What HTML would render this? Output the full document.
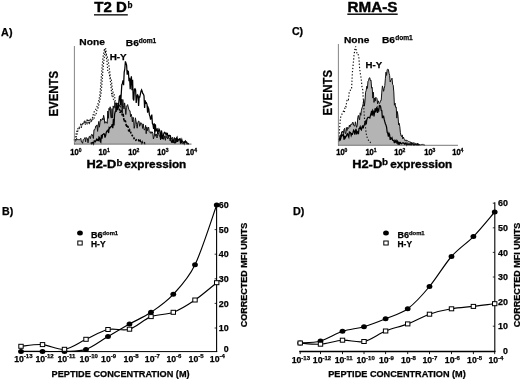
<!DOCTYPE html>
<html><head><meta charset="utf-8"><title>Figure</title>
<style>html,body{margin:0;padding:0;background:#fff;}svg{display:block;will-change:transform;opacity:0.999;filter:blur(0.35px);}svg text{font-family:"Liberation Sans",sans-serif;}</style>
</head><body>
<svg width="520" height="379" viewBox="0 0 520 379" fill="#000">
<rect width="520" height="379" fill="#fff"/>
<text x="94.3" y="11.9" font-size="14" font-weight="bold" text-anchor="start" textLength="32.6" lengthAdjust="spacingAndGlyphs" stroke="#000" stroke-width="0.4" >T2 D</text>
<text x="127.6" y="7.5" font-size="8.5" font-weight="bold" text-anchor="start" textLength="5" lengthAdjust="spacingAndGlyphs" stroke="#000" stroke-width="0.25" >b</text>
<rect x="94" y="14.2" width="33.8" height="1.3" fill="#000"/>
<text x="347.6" y="12" font-size="14" font-weight="bold" text-anchor="start" textLength="49.8" lengthAdjust="spacingAndGlyphs" stroke="#000" stroke-width="0.4" >RMA-S</text>
<rect x="347.3" y="13.5" width="50.4" height="1.4" fill="#000"/>
<text x="1.1" y="35.7" font-size="10" font-weight="bold" text-anchor="start" textLength="11.4" lengthAdjust="spacingAndGlyphs" stroke="#000" stroke-width="0.25" >A)</text>
<text x="291.9" y="35" font-size="10" font-weight="bold" text-anchor="start" textLength="11.2" lengthAdjust="spacingAndGlyphs" stroke="#000" stroke-width="0.25" >C)</text>
<text x="2.0" y="215" font-size="10" font-weight="bold" text-anchor="start" textLength="11.2" lengthAdjust="spacingAndGlyphs" stroke="#000" stroke-width="0.25" >B)</text>
<text x="292.9" y="215" font-size="10" font-weight="bold" text-anchor="start" textLength="11.4" lengthAdjust="spacingAndGlyphs" stroke="#000" stroke-width="0.25" >D)</text>
<path d="M74.8,140.5 L75.4,141.3 L76.0,140.4 L76.6,138.4 L77.2,139.7 L77.8,139.5 L78.4,139.8 L79.0,139.2 L79.6,139.8 L80.2,139.3 L80.8,138.3 L81.4,141.9 L82.0,141.8 L82.6,143.3 L83.2,139.7 L83.8,139.0 L84.4,138.8 L85.0,137.5 L85.6,141.8 L86.2,137.9 L86.8,137.7 L87.4,138.8 L88.0,142.8 L88.6,139.1 L89.2,136.5 L89.8,136.3 L90.4,138.6 L91.0,135.9 L91.6,134.4 L92.2,134.5 L92.8,136.5 L93.4,138.5 L94.0,129.7 L94.6,129.8 L95.2,128.5 L95.8,126.0 L96.4,126.2 L97.0,124.9 L97.6,131.4 L98.2,125.3 L98.8,121.4 L99.4,127.2 L100.0,122.6 L100.6,119.1 L101.2,120.5 L101.8,119.8 L102.4,118.4 L103.0,120.0 L103.6,115.3 L104.2,117.7 L104.8,123.3 L105.4,121.7 L106.0,122.5 L106.6,121.9 L107.2,123.4 L107.8,111.0 L108.4,118.3 L109.0,108.3 L109.6,110.2 L110.2,106.8 L110.8,116.9 L111.4,118.1 L112.0,108.6 L112.6,118.0 L113.2,105.9 L113.8,108.3 L114.4,107.6 L115.0,102.8 L115.6,108.0 L116.2,111.9 L116.8,102.8 L117.4,104.4 L118.0,103.0 L118.6,104.4 L119.2,104.6 L119.8,106.6 L120.4,107.3 L121.0,105.2 L121.6,99.2 L122.2,113.1 L122.8,99.5 L123.4,105.7 L124.0,108.9 L124.6,102.9 L125.2,107.2 L125.8,114.5 L126.4,107.6 L127.0,105.7 L127.6,104.6 L128.2,107.0 L128.8,109.3 L129.4,110.7 L130.0,110.7 L130.6,116.8 L131.2,114.2 L131.8,116.7 L132.4,121.9 L133.0,117.2 L133.6,119.4 L134.2,128.3 L134.8,125.3 L135.4,117.8 L136.0,121.1 L136.6,124.5 L137.2,128.2 L137.8,123.0 L138.4,121.2 L139.0,121.1 L139.6,126.3 L140.2,125.0 L140.8,122.6 L141.4,123.8 L142.0,123.7 L142.6,128.4 L143.2,123.9 L143.8,128.1 L144.4,130.1 L145.0,128.8 L145.6,125.4 L146.2,133.7 L146.8,126.9 L147.4,130.7 L148.0,128.0 L148.6,127.1 L149.2,131.6 L149.8,132.4 L150.4,131.7 L151.0,133.5 L151.6,131.9 L152.2,131.9 L152.8,133.2 L153.4,139.0 L154.0,136.8 L154.6,133.3 L155.2,136.3 L155.8,133.9 L156.4,134.1 L157.0,138.0 L157.6,134.5 L158.2,133.2 L158.8,134.3 L159.4,136.1 L160.0,136.3 L160.6,140.0 L161.2,135.1 L161.8,138.6 L162.4,137.8 L163.0,136.4 L163.6,139.3 L164.2,138.3 L164.8,135.7 L165.4,140.3 L166.0,135.5 L166.6,137.6 L167.2,137.6 L167.8,138.9 L168.4,136.9 L169.0,138.0 L169.6,138.0 L170.2,141.0 L170.8,137.4 L171.4,138.8 L172.0,138.4 L172.6,137.3 L173.2,142.9 L173.8,139.1 L174.4,137.5 L175.0,142.9 L175.6,138.3 L176.2,140.6 L176.8,141.9 L177.4,139.3 L178.0,139.7 L178.6,139.7 L179.2,140.3 L179.8,139.0 L180.4,139.4 L181.0,140.7 L181.6,143.1 L182.2,142.5 L182.8,143.8 L183.4,142.9 L184.0,141.4 L184.6,141.9 L185.2,141.1 L185.8,141.7 L186.4,141.9 L187.0,143.2 L187.6,143.8 L188.2,143.1 L188.8,143.7 L188.8,143.8 L74.8,143.8 Z" fill="#b4b4b4" stroke="none"/>
<path d="M74.8,140.5 L75.4,141.3 L76.0,140.4 L76.6,138.4 L77.2,139.7 L77.8,139.5 L78.4,139.8 L79.0,139.2 L79.6,139.8 L80.2,139.3 L80.8,138.3 L81.4,141.9 L82.0,141.8 L82.6,143.3 L83.2,139.7 L83.8,139.0 L84.4,138.8 L85.0,137.5 L85.6,141.8 L86.2,137.9 L86.8,137.7 L87.4,138.8 L88.0,142.8 L88.6,139.1 L89.2,136.5 L89.8,136.3 L90.4,138.6 L91.0,135.9 L91.6,134.4 L92.2,134.5 L92.8,136.5 L93.4,138.5 L94.0,129.7 L94.6,129.8 L95.2,128.5 L95.8,126.0 L96.4,126.2 L97.0,124.9 L97.6,131.4 L98.2,125.3 L98.8,121.4 L99.4,127.2 L100.0,122.6 L100.6,119.1 L101.2,120.5 L101.8,119.8 L102.4,118.4 L103.0,120.0 L103.6,115.3 L104.2,117.7 L104.8,123.3 L105.4,121.7 L106.0,122.5 L106.6,121.9 L107.2,123.4 L107.8,111.0 L108.4,118.3 L109.0,108.3 L109.6,110.2 L110.2,106.8 L110.8,116.9 L111.4,118.1 L112.0,108.6 L112.6,118.0 L113.2,105.9 L113.8,108.3 L114.4,107.6 L115.0,102.8 L115.6,108.0 L116.2,111.9 L116.8,102.8 L117.4,104.4 L118.0,103.0 L118.6,104.4 L119.2,104.6 L119.8,106.6 L120.4,107.3 L121.0,105.2 L121.6,99.2 L122.2,113.1 L122.8,99.5 L123.4,105.7 L124.0,108.9 L124.6,102.9 L125.2,107.2 L125.8,114.5 L126.4,107.6 L127.0,105.7 L127.6,104.6 L128.2,107.0 L128.8,109.3 L129.4,110.7 L130.0,110.7 L130.6,116.8 L131.2,114.2 L131.8,116.7 L132.4,121.9 L133.0,117.2 L133.6,119.4 L134.2,128.3 L134.8,125.3 L135.4,117.8 L136.0,121.1 L136.6,124.5 L137.2,128.2 L137.8,123.0 L138.4,121.2 L139.0,121.1 L139.6,126.3 L140.2,125.0 L140.8,122.6 L141.4,123.8 L142.0,123.7 L142.6,128.4 L143.2,123.9 L143.8,128.1 L144.4,130.1 L145.0,128.8 L145.6,125.4 L146.2,133.7 L146.8,126.9 L147.4,130.7 L148.0,128.0 L148.6,127.1 L149.2,131.6 L149.8,132.4 L150.4,131.7 L151.0,133.5 L151.6,131.9 L152.2,131.9 L152.8,133.2 L153.4,139.0 L154.0,136.8 L154.6,133.3 L155.2,136.3 L155.8,133.9 L156.4,134.1 L157.0,138.0 L157.6,134.5 L158.2,133.2 L158.8,134.3 L159.4,136.1 L160.0,136.3 L160.6,140.0 L161.2,135.1 L161.8,138.6 L162.4,137.8 L163.0,136.4 L163.6,139.3 L164.2,138.3 L164.8,135.7 L165.4,140.3 L166.0,135.5 L166.6,137.6 L167.2,137.6 L167.8,138.9 L168.4,136.9 L169.0,138.0 L169.6,138.0 L170.2,141.0 L170.8,137.4 L171.4,138.8 L172.0,138.4 L172.6,137.3 L173.2,142.9 L173.8,139.1 L174.4,137.5 L175.0,142.9 L175.6,138.3 L176.2,140.6 L176.8,141.9 L177.4,139.3 L178.0,139.7 L178.6,139.7 L179.2,140.3 L179.8,139.0 L180.4,139.4 L181.0,140.7 L181.6,143.1 L182.2,142.5 L182.8,143.8 L183.4,142.9 L184.0,141.4 L184.6,141.9 L185.2,141.1 L185.8,141.7 L186.4,141.9 L187.0,143.2 L187.6,143.8 L188.2,143.1 L188.8,143.7" fill="none" stroke="#111" stroke-width="1"/>
<path d="M90.6,143.5 L91.2,143.0 L91.8,143.8 L92.4,142.4 L93.0,142.6 L93.6,143.8 L94.2,140.9 L94.8,140.9 L95.4,141.7 L96.0,140.6 L96.6,139.3 L97.2,140.2 L97.8,139.5 L98.4,141.1 L99.0,137.0 L99.6,137.6 L100.2,141.5 L100.8,142.2 L101.4,134.8 L102.0,138.7 L102.6,134.6 L103.2,134.3 L103.8,133.7 L104.4,134.0 L105.0,137.6 L105.6,135.9 L106.2,132.7 L106.8,131.1 L107.4,131.1 L108.0,130.1 L108.6,133.0 L109.2,127.6 L109.8,128.2 L110.4,127.2 L111.0,126.6 L111.6,126.4 L112.2,124.1 L112.8,128.1 L113.4,118.9 L114.0,125.5 L114.6,114.3 L115.2,111.8 L115.8,110.7 L116.4,109.1 L117.0,105.3 L117.6,110.1 L118.2,107.9 L118.8,102.2 L119.4,96.2 L120.0,95.7 L120.6,105.1 L121.2,94.7 L121.8,84.7 L122.4,83.4 L123.0,80.3 L123.6,85.2 L124.2,72.2 L124.8,69.2 L125.4,61.4 L126.0,63.1 L126.6,65.2 L127.2,74.7 L127.8,71.0 L128.4,71.5 L129.0,81.1 L129.6,77.9 L130.2,89.1 L130.8,80.5 L131.4,76.4 L132.0,90.2 L132.6,79.8 L133.2,98.9 L133.8,100.5 L134.4,89.3 L135.0,88.7 L135.6,89.8 L136.2,103.0 L136.8,97.1 L137.4,94.9 L138.0,95.4 L138.6,106.0 L139.2,96.8 L139.8,97.0 L140.4,94.1 L141.0,91.3 L141.6,89.9 L142.2,91.5 L142.8,93.6 L143.4,94.1 L144.0,95.9 L144.6,108.0 L145.2,100.4 L145.8,103.2 L146.4,102.7 L147.0,104.4 L147.6,112.7 L148.2,107.7 L148.8,109.1 L149.4,114.9 L150.0,116.3 L150.6,119.6 L151.2,117.8 L151.8,114.6 L152.4,123.6 L153.0,124.6 L153.6,128.8 L154.2,123.4 L154.8,133.2 L155.4,124.4 L156.0,131.3 L156.6,129.2 L157.2,128.9 L157.8,134.2 L158.4,131.1 L159.0,129.1 L159.6,130.1 L160.2,134.3 L160.8,138.6 L161.4,130.5 L162.0,133.4 L162.6,139.1 L163.2,136.3 L163.8,133.7 L164.4,132.3 L165.0,132.5 L165.6,134.0 L166.2,134.8 L166.8,133.2 L167.4,133.5 L168.0,137.1 L168.6,135.7 L169.2,135.4 L169.8,136.2 L170.4,135.8 L171.0,140.1 L171.6,142.1 L172.2,142.2 L172.8,140.0 L173.4,140.3 L174.0,142.6 L174.6,142.8 L175.2,142.8 L175.8,142.3 L176.4,138.2 L177.0,137.3 L177.6,141.8 L178.2,139.5 L178.8,139.8 L179.4,138.9 L180.0,138.6 L180.6,143.8 L181.2,141.7 L181.8,139.6 L182.4,141.9 L183.0,141.9 L183.6,142.6 L184.2,143.8 L184.8,141.9 L185.4,141.1 L186.0,142.5 L186.6,142.2 L187.2,143.8 L187.8,143.5 L188.4,143.8 L189.0,143.8" fill="none" stroke="#000" stroke-width="1.25"/>
<path d="M75.3,140.3 L76.1,137.5 L76.9,134.8 L77.7,131.3 L78.5,129.9 L79.3,128.3 L80.1,127.0 L80.9,127.2 L81.7,126.4 L82.5,123.4 L83.3,122.6 L84.1,122.0 L84.9,123.7 L85.7,123.1 L86.5,120.2 L87.3,120.1 L88.1,122.7 L88.9,124.1 L89.7,120.4 L90.5,119.4 L91.3,122.4 L92.1,118.5 L92.9,119.3 L93.7,119.9 L94.5,116.5 L95.3,113.8 L96.1,114.2 L96.9,110.2 L97.7,109.1 L98.5,105.7 L99.3,103.4 L100.1,99.1 L100.9,93.9 L101.7,86.6 L102.5,76.2 L103.3,65.4 L104.1,59.3 L104.9,52.9 L105.7,48.4 L106.5,54.6 L107.3,57.0 L108.1,59.6 L108.9,65.7 L109.7,70.6 L110.5,78.7 L111.3,78.9 L112.1,87.2 L112.9,91.8 L113.7,93.3 L114.5,95.9 L115.3,101.5 L116.1,103.6" fill="none" stroke="#111" stroke-width="1.15" stroke-dasharray="1.3 1.7"/>
<path d="M116.1,103.6 L116.9,106.2 L117.7,106.0 L118.5,107.1 L119.3,108.1 L120.1,112.8 L120.9,110.3 L121.7,113.0 L122.5,115.9 L123.3,115.0 L124.1,121.6 L124.9,119.5 L125.7,122.1 L126.5,127.1 L127.3,124.9 L128.1,127.0 L128.9,132.2 L129.7,130.1 L130.5,131.8 L131.3,134.2 L132.1,135.3 L132.9,136.7 L133.7,137.5 L134.5,139.9 L135.3,140.3 L136.1,140.1 L136.9,139.4 L137.7,139.8 L138.5,139.8 L139.3,141.7 L140.1,140.6 L140.9,142.5 L141.7,143.3 L142.5,141.7 L143.3,142.2 L144.1,142.6 L144.9,143.6 L145.7,143.3" fill="none" stroke="#000" stroke-width="1.6" stroke-dasharray="2 1.4"/>
<path d="M74.2,140.3 L75.0,137.3 L75.8,135.5 L76.6,131.3 L77.4,131.3 L78.2,127.2 L79.0,127.6 L79.8,126.4 L80.6,124.7 L81.4,127.7 L82.2,122.9 L83.0,123.6 L83.8,124.6 L84.6,120.6 L85.4,124.6 L86.2,121.2 L87.0,123.3 L87.8,119.7 L88.6,119.3 L89.4,122.9 L90.2,121.0 L91.0,119.1 L91.8,119.1 L92.6,117.5 L93.4,113.5 L94.2,111.8 L95.0,110.4 L95.8,109.1 L96.6,107.4 L97.4,105.6 L98.2,102.9 L99.0,99.7 L99.8,94.9 L100.6,86.6 L101.4,75.5 L102.2,65.4 L103.0,57.7 L103.8,52.0 L104.6,48.4 L105.4,52.4 L106.2,56.5 L107.0,61.6 L107.8,71.1 L108.6,71.4 L109.4,74.3 L110.2,79.7 L111.0,86.3 L111.8,96.3 L112.6,93.3 L113.4,99.2 L114.2,100.4 L115.0,104.1 L115.8,101.4" fill="none" stroke="#111" stroke-width="1.15" stroke-dasharray="1.3 1.7"/>
<line x1="74.4" y1="46" x2="74.4" y2="144.4" stroke="#777" stroke-width="0.9"/>
<line x1="74" y1="144.10000000000002" x2="191.5" y2="144.10000000000002" stroke="#444" stroke-width="0.8"/>
<text x="70.3" y="154.9" font-size="8.6" font-weight="bold" text-anchor="start" textLength="8.4" lengthAdjust="spacingAndGlyphs" stroke="#000" stroke-width="0.35" >10</text>
<text x="78.69999999999999" y="151.9" font-size="5.6" font-weight="bold" text-anchor="start" textLength="2.8" lengthAdjust="spacingAndGlyphs" stroke="#000" stroke-width="0.3" >0</text>
<text x="98.60000000000001" y="154.9" font-size="8.6" font-weight="bold" text-anchor="start" textLength="8.4" lengthAdjust="spacingAndGlyphs" stroke="#000" stroke-width="0.35" >10</text>
<text x="107.0" y="151.9" font-size="5.6" font-weight="bold" text-anchor="start" textLength="2.8" lengthAdjust="spacingAndGlyphs" stroke="#000" stroke-width="0.3" >1</text>
<text x="128.2" y="154.9" font-size="8.6" font-weight="bold" text-anchor="start" textLength="8.4" lengthAdjust="spacingAndGlyphs" stroke="#000" stroke-width="0.35" >10</text>
<text x="136.6" y="151.9" font-size="5.6" font-weight="bold" text-anchor="start" textLength="2.8" lengthAdjust="spacingAndGlyphs" stroke="#000" stroke-width="0.3" >2</text>
<text x="157.29999999999998" y="154.9" font-size="8.6" font-weight="bold" text-anchor="start" textLength="8.4" lengthAdjust="spacingAndGlyphs" stroke="#000" stroke-width="0.35" >10</text>
<text x="165.7" y="151.9" font-size="5.6" font-weight="bold" text-anchor="start" textLength="2.8" lengthAdjust="spacingAndGlyphs" stroke="#000" stroke-width="0.3" >3</text>
<text x="185.79999999999998" y="154.9" font-size="8.6" font-weight="bold" text-anchor="start" textLength="8.4" lengthAdjust="spacingAndGlyphs" stroke="#000" stroke-width="0.35" >10</text>
<text x="194.2" y="151.9" font-size="5.6" font-weight="bold" text-anchor="start" textLength="2.8" lengthAdjust="spacingAndGlyphs" stroke="#000" stroke-width="0.3" >4</text>
<text x="79.3" y="45.4" font-size="9.8" font-weight="bold" text-anchor="start" textLength="25.6" lengthAdjust="spacingAndGlyphs" stroke="#000" stroke-width="0.25" >None</text>
<text x="125.8" y="45.5" font-size="9.8" font-weight="bold" text-anchor="start" textLength="13" lengthAdjust="spacingAndGlyphs" stroke="#000" stroke-width="0.25" >B6</text>
<text x="138.7" y="42.6" font-size="6.8" font-weight="bold" text-anchor="start" textLength="17.6" lengthAdjust="spacingAndGlyphs" stroke="#000" stroke-width="0.25" >dom1</text>
<text x="109.7" y="59.7" font-size="9.8" font-weight="bold" text-anchor="start" textLength="17" lengthAdjust="spacingAndGlyphs" stroke="#000" stroke-width="0.25" >H-Y</text>
<text x="86.4" y="168.1" font-size="11.6" font-weight="bold" text-anchor="start" textLength="30" lengthAdjust="spacingAndGlyphs" stroke="#000" stroke-width="0.35" >H2-D</text>
<text x="116.6" y="165.6" font-size="8.8" font-weight="bold" text-anchor="start" textLength="6" lengthAdjust="spacingAndGlyphs" stroke="#000" stroke-width="0.25" >b</text>
<text x="124.3" y="168.1" font-size="11.6" font-weight="bold" text-anchor="start" textLength="62" lengthAdjust="spacingAndGlyphs" stroke="#000" stroke-width="0.35" >expression</text>
<text transform="translate(58.1,116.5) rotate(-90)" font-size="12.3" font-weight="bold" stroke="#000" stroke-width="0.25" textLength="45.6" lengthAdjust="spacingAndGlyphs">EVENTS</text>
<path d="M338.6,140.0 L339.2,138.6 L339.8,139.9 L340.4,134.8 L341.0,136.9 L341.6,131.8 L342.2,132.3 L342.8,131.0 L343.4,133.6 L344.0,129.4 L344.6,128.3 L345.2,133.3 L345.8,133.6 L346.4,127.5 L347.0,130.6 L347.6,127.4 L348.2,128.4 L348.8,128.3 L349.4,125.0 L350.0,126.9 L350.6,124.6 L351.2,124.3 L351.8,124.8 L352.4,122.6 L353.0,122.1 L353.6,125.0 L354.2,125.9 L354.8,126.2 L355.4,121.8 L356.0,124.7 L356.6,127.3 L357.2,125.6 L357.8,117.4 L358.4,115.4 L359.0,118.1 L359.6,119.9 L360.2,112.8 L360.8,115.3 L361.4,110.2 L362.0,108.0 L362.6,106.2 L363.2,103.8 L363.8,99.5 L364.4,106.1 L365.0,100.8 L365.6,92.2 L366.2,90.5 L366.8,86.2 L367.4,88.4 L368.0,81.1 L368.6,80.4 L369.2,78.0 L369.8,77.7 L370.4,80.8 L371.0,80.2 L371.6,88.2 L372.2,87.4 L372.8,98.1 L373.4,92.2 L374.0,102.4 L374.6,98.0 L375.2,101.1 L375.8,97.3 L376.4,97.9 L377.0,98.7 L377.6,103.8 L378.2,100.8 L378.8,102.4 L379.4,103.5 L380.0,102.5 L380.6,100.5 L381.2,100.5 L381.8,92.1 L382.4,85.9 L383.0,88.0 L383.6,91.3 L384.2,88.5 L384.8,85.7 L385.4,78.3 L386.0,72.1 L386.6,75.4 L387.2,69.6 L387.8,69.0 L388.4,69.7 L389.0,73.2 L389.6,75.3 L390.2,82.0 L390.8,80.2 L391.4,79.7 L392.0,78.2 L392.6,84.4 L393.2,85.2 L393.8,91.9 L394.4,105.2 L395.0,103.0 L395.6,107.3 L396.2,107.0 L396.8,118.1 L397.4,111.5 L398.0,116.1 L398.6,124.8 L399.2,123.3 L399.8,126.7 L400.4,132.8 L401.0,135.6 L401.6,136.6 L402.2,134.9 L402.8,138.9 L403.4,137.0 L404.0,138.6 L404.6,139.2 L405.2,141.0 L405.8,140.3 L406.4,140.1 L407.0,141.2 L407.6,140.6 L408.2,141.3 L408.8,141.8 L409.4,141.8 L410.0,141.8 L410.6,142.0 L411.2,144.5 L411.8,142.2 L412.4,143.6 L413.0,142.8 L413.6,143.0 L414.2,142.7 L414.8,143.6 L415.4,143.4 L416.0,145.0 L416.6,143.7 L417.2,143.5 L417.8,143.6 L418.4,145.0 L419.0,144.9 L419.6,144.3 L420.2,145.0 L420.8,144.8 L421.4,144.5 L422.0,145.0 L422.6,144.4 L423.2,144.9 L423.8,144.5 L424.4,145.0 L425.0,145.0 L425.0,145.0 L338.6,145.0 Z" fill="#b4b4b4" stroke="none"/>
<path d="M338.6,140.0 L339.2,138.6 L339.8,139.9 L340.4,134.8 L341.0,136.9 L341.6,131.8 L342.2,132.3 L342.8,131.0 L343.4,133.6 L344.0,129.4 L344.6,128.3 L345.2,133.3 L345.8,133.6 L346.4,127.5 L347.0,130.6 L347.6,127.4 L348.2,128.4 L348.8,128.3 L349.4,125.0 L350.0,126.9 L350.6,124.6 L351.2,124.3 L351.8,124.8 L352.4,122.6 L353.0,122.1 L353.6,125.0 L354.2,125.9 L354.8,126.2 L355.4,121.8 L356.0,124.7 L356.6,127.3 L357.2,125.6 L357.8,117.4 L358.4,115.4 L359.0,118.1 L359.6,119.9 L360.2,112.8 L360.8,115.3 L361.4,110.2 L362.0,108.0 L362.6,106.2 L363.2,103.8 L363.8,99.5 L364.4,106.1 L365.0,100.8 L365.6,92.2 L366.2,90.5 L366.8,86.2 L367.4,88.4 L368.0,81.1 L368.6,80.4 L369.2,78.0 L369.8,77.7 L370.4,80.8 L371.0,80.2 L371.6,88.2 L372.2,87.4 L372.8,98.1 L373.4,92.2 L374.0,102.4 L374.6,98.0 L375.2,101.1 L375.8,97.3 L376.4,97.9 L377.0,98.7 L377.6,103.8 L378.2,100.8 L378.8,102.4 L379.4,103.5 L380.0,102.5 L380.6,100.5 L381.2,100.5 L381.8,92.1 L382.4,85.9 L383.0,88.0 L383.6,91.3 L384.2,88.5 L384.8,85.7 L385.4,78.3 L386.0,72.1 L386.6,75.4 L387.2,69.6 L387.8,69.0 L388.4,69.7 L389.0,73.2 L389.6,75.3 L390.2,82.0 L390.8,80.2 L391.4,79.7 L392.0,78.2 L392.6,84.4 L393.2,85.2 L393.8,91.9 L394.4,105.2 L395.0,103.0 L395.6,107.3 L396.2,107.0 L396.8,118.1 L397.4,111.5 L398.0,116.1 L398.6,124.8 L399.2,123.3 L399.8,126.7 L400.4,132.8 L401.0,135.6 L401.6,136.6 L402.2,134.9 L402.8,138.9 L403.4,137.0 L404.0,138.6 L404.6,139.2 L405.2,141.0 L405.8,140.3 L406.4,140.1 L407.0,141.2 L407.6,140.6 L408.2,141.3 L408.8,141.8 L409.4,141.8 L410.0,141.8 L410.6,142.0 L411.2,144.5 L411.8,142.2 L412.4,143.6 L413.0,142.8 L413.6,143.0 L414.2,142.7 L414.8,143.6 L415.4,143.4 L416.0,145.0 L416.6,143.7 L417.2,143.5 L417.8,143.6 L418.4,145.0 L419.0,144.9 L419.6,144.3 L420.2,145.0 L420.8,144.8 L421.4,144.5 L422.0,145.0 L422.6,144.4 L423.2,144.9 L423.8,144.5 L424.4,145.0 L425.0,145.0" fill="none" stroke="#111" stroke-width="1"/>
<path d="M338.6,141.6 L339.2,140.2 L339.8,138.0 L340.4,139.5 L341.0,137.6 L341.6,134.9 L342.2,135.7 L342.8,134.9 L343.4,134.7 L344.0,139.8 L344.6,135.9 L345.2,137.9 L345.8,136.9 L346.4,135.9 L347.0,134.2 L347.6,133.8 L348.2,135.7 L348.8,137.1 L349.4,132.0 L350.0,132.3 L350.6,132.8 L351.2,135.5 L351.8,133.8 L352.4,134.2 L353.0,132.4 L353.6,130.2 L354.2,131.1 L354.8,134.6 L355.4,131.3 L356.0,128.9 L356.6,134.5 L357.2,131.5 L357.8,132.0 L358.4,134.1 L359.0,128.7 L359.6,128.3 L360.2,126.8 L360.8,129.2 L361.4,129.9 L362.0,127.1 L362.6,126.2 L363.2,128.3 L363.8,125.7 L364.4,124.8 L365.0,122.3 L365.6,121.4 L366.2,124.4 L366.8,119.7 L367.4,118.3 L368.0,117.3 L368.6,117.3 L369.2,117.5 L369.8,117.9 L370.4,115.7 L371.0,113.8 L371.6,110.8 L372.2,115.6 L372.8,110.5 L373.4,111.6 L374.0,116.3 L374.6,111.8 L375.2,108.4 L375.8,112.5 L376.4,108.3 L377.0,107.3 L377.6,112.9 L378.2,109.7 L378.8,110.6 L379.4,105.5 L380.0,105.6 L380.6,106.5 L381.2,110.3 L381.8,110.7 L382.4,118.2 L383.0,116.0 L383.6,116.2 L384.2,119.4 L384.8,121.7 L385.4,123.7 L386.0,125.1 L386.6,127.4 L387.2,132.3 L387.8,133.5 L388.4,136.6 L389.0,133.3 L389.6,134.6 L390.2,139.9 L390.8,138.1 L391.4,138.8 L392.0,137.8 L392.6,140.2 L393.2,140.3 L393.8,140.9 L394.4,143.1 L395.0,140.6 L395.6,141.8 L396.2,140.6 L396.8,142.6 L397.4,141.4 L398.0,144.6 L398.6,141.7 L399.2,144.9 L399.8,142.5 L400.4,142.4 L401.0,143.7 L401.6,143.8 L402.2,143.0 L402.8,142.9 L403.4,142.8 L404.0,143.5 L404.6,144.2 L405.2,143.0 L405.8,144.0 L406.4,145.0 L407.0,143.3 L407.6,144.7 L408.2,144.7 L408.8,143.9 L409.4,144.6 L410.0,143.8 L410.6,144.8 L411.2,145.0 L411.8,144.2 L412.4,144.2 L413.0,143.8 L413.6,145.0 L414.2,145.0 L414.8,144.3 L415.4,144.6 L416.0,144.6 L416.6,145.0 L417.2,144.1 L417.8,145.0 L418.4,144.2 L419.0,145.0 L419.6,144.8" fill="none" stroke="#000" stroke-width="1.25"/>
<path d="M338.8,140.0 L339.6,128.3 L340.4,117.8 L341.2,116.2 L342.0,114.0 L342.8,112.8 L343.6,110.6 L344.4,112.2 L345.2,106.0 L346.0,106.7 L346.8,101.1 L347.6,99.0 L348.4,99.7 L349.2,92.5 L350.0,91.9 L350.8,88.2 L351.6,88.0 L352.4,72.3 L353.2,64.4 L354.0,55.4 L354.8,49.7 L355.6,46.4 L356.4,51.2 L357.2,54.1 L358.0,53.8 L358.8,56.8 L359.6,68.1 L360.4,74.2 L361.2,78.4 L362.0,87.1 L362.8,90.1 L363.6,104.9 L364.4,117.6 L365.2,124.0 L366.0,132.5 L366.8,136.2 L367.6,139.0 L368.4,140.2 L369.2,141.8 L370.0,142.0 L370.8,143.6" fill="none" stroke="#111" stroke-width="1.15" stroke-dasharray="1.3 1.9"/>
<line x1="338.4" y1="44" x2="338.4" y2="145.6" stroke="#777" stroke-width="0.9"/>
<line x1="338" y1="145.3" x2="458" y2="145.3" stroke="#555" stroke-width="0.8"/>
<text x="336.2" y="154.7" font-size="8.6" font-weight="bold" text-anchor="start" textLength="8.4" lengthAdjust="spacingAndGlyphs" stroke="#000" stroke-width="0.35" >10</text>
<text x="344.6" y="151.7" font-size="5.6" font-weight="bold" text-anchor="start" textLength="2.8" lengthAdjust="spacingAndGlyphs" stroke="#000" stroke-width="0.3" >0</text>
<text x="365.4" y="154.7" font-size="8.6" font-weight="bold" text-anchor="start" textLength="8.4" lengthAdjust="spacingAndGlyphs" stroke="#000" stroke-width="0.35" >10</text>
<text x="373.8" y="151.7" font-size="5.6" font-weight="bold" text-anchor="start" textLength="2.8" lengthAdjust="spacingAndGlyphs" stroke="#000" stroke-width="0.3" >1</text>
<text x="394.2" y="154.7" font-size="8.6" font-weight="bold" text-anchor="start" textLength="8.4" lengthAdjust="spacingAndGlyphs" stroke="#000" stroke-width="0.35" >10</text>
<text x="402.6" y="151.7" font-size="5.6" font-weight="bold" text-anchor="start" textLength="2.8" lengthAdjust="spacingAndGlyphs" stroke="#000" stroke-width="0.3" >2</text>
<text x="424.2" y="154.7" font-size="8.6" font-weight="bold" text-anchor="start" textLength="8.4" lengthAdjust="spacingAndGlyphs" stroke="#000" stroke-width="0.35" >10</text>
<text x="432.6" y="151.7" font-size="5.6" font-weight="bold" text-anchor="start" textLength="2.8" lengthAdjust="spacingAndGlyphs" stroke="#000" stroke-width="0.3" >3</text>
<text x="452.2" y="154.7" font-size="8.6" font-weight="bold" text-anchor="start" textLength="8.4" lengthAdjust="spacingAndGlyphs" stroke="#000" stroke-width="0.35" >10</text>
<text x="460.6" y="151.7" font-size="5.6" font-weight="bold" text-anchor="start" textLength="2.8" lengthAdjust="spacingAndGlyphs" stroke="#000" stroke-width="0.3" >4</text>
<text x="344" y="42.9" font-size="9.8" font-weight="bold" text-anchor="start" textLength="25.4" lengthAdjust="spacingAndGlyphs" stroke="#000" stroke-width="0.25" >None</text>
<text x="382" y="42.9" font-size="9.8" font-weight="bold" text-anchor="start" textLength="13" lengthAdjust="spacingAndGlyphs" stroke="#000" stroke-width="0.25" >B6</text>
<text x="395.2" y="40" font-size="6.8" font-weight="bold" text-anchor="start" textLength="17.6" lengthAdjust="spacingAndGlyphs" stroke="#000" stroke-width="0.25" >dom1</text>
<text x="365.6" y="67.6" font-size="9.8" font-weight="bold" text-anchor="start" textLength="16.6" lengthAdjust="spacingAndGlyphs" stroke="#000" stroke-width="0.25" >H-Y</text>
<text x="352.2" y="167.7" font-size="11.6" font-weight="bold" text-anchor="start" textLength="30" lengthAdjust="spacingAndGlyphs" stroke="#000" stroke-width="0.35" >H2-D</text>
<text x="382" y="165.2" font-size="8.8" font-weight="bold" text-anchor="start" textLength="6" lengthAdjust="spacingAndGlyphs" stroke="#000" stroke-width="0.25" >b</text>
<text x="390.3" y="167.7" font-size="11.6" font-weight="bold" text-anchor="start" textLength="62" lengthAdjust="spacingAndGlyphs" stroke="#000" stroke-width="0.35" >expression</text>
<text transform="translate(331.6,115.6) rotate(-90)" font-size="12.3" font-weight="bold" stroke="#000" stroke-width="0.25" textLength="45.6" lengthAdjust="spacingAndGlyphs">EVENTS</text>
<line x1="19" y1="351.6" x2="217.2" y2="351.6" stroke="#000" stroke-width="1.0"/>
<line x1="216.6" y1="203" x2="216.6" y2="352.1" stroke="#000" stroke-width="1.1"/>
<line x1="214.6" y1="328.0" x2="216.6" y2="328.0" stroke="#000" stroke-width="0.8"/>
<line x1="214.6" y1="303.4" x2="216.6" y2="303.4" stroke="#000" stroke-width="0.8"/>
<line x1="214.6" y1="278.8" x2="216.6" y2="278.8" stroke="#000" stroke-width="0.8"/>
<line x1="214.6" y1="254.2" x2="216.6" y2="254.2" stroke="#000" stroke-width="0.8"/>
<line x1="214.6" y1="229.6" x2="216.6" y2="229.6" stroke="#000" stroke-width="0.8"/>
<line x1="214.6" y1="205.0" x2="216.6" y2="205.0" stroke="#000" stroke-width="0.8"/>
<path d="M21.0,346.3 C24.4,346.0 35.5,344.1 42.5,344.6 C49.5,345.1 57.5,350.1 64.5,349.3 C71.5,348.5 79.0,342.5 86.0,339.3 C93.0,336.1 101.0,331.1 108.0,329.5 C115.0,327.9 122.6,331.3 129.5,329.2 C136.4,327.1 144.0,319.3 151.0,316.6 C158.0,313.9 166.3,315.0 173.3,312.3 C180.3,309.6 188.1,304.7 195.0,300.0 C201.9,295.3 213.2,285.5 216.7,282.7" fill="none" stroke="#000" stroke-width="1.15"/>
<path d="M21.0,351.4 C24.4,351.4 35.5,351.4 42.5,351.4 C49.5,351.4 57.5,351.7 64.5,351.4 C71.5,351.1 79.0,351.8 86.0,349.4 C93.0,347.0 101.0,340.6 108.0,336.5 C115.0,332.4 122.6,327.9 129.5,324.0 C136.4,320.1 144.0,317.1 151.0,312.3 C158.0,307.5 166.3,301.9 173.3,294.3 C180.3,286.7 188.1,279.1 195.0,264.8 C201.9,250.5 213.2,214.6 216.7,205.0" fill="none" stroke="#000" stroke-width="1.15"/>
<ellipse cx="21.0" cy="351.4" rx="2.9" ry="2.5" fill="#000"/>
<ellipse cx="42.5" cy="351.4" rx="2.9" ry="2.5" fill="#000"/>
<ellipse cx="64.5" cy="351.4" rx="2.9" ry="2.5" fill="#000"/>
<ellipse cx="86.0" cy="349.4" rx="2.9" ry="2.5" fill="#000"/>
<ellipse cx="108.0" cy="336.5" rx="2.9" ry="2.5" fill="#000"/>
<ellipse cx="129.5" cy="324.0" rx="2.9" ry="2.5" fill="#000"/>
<ellipse cx="151.0" cy="312.3" rx="2.9" ry="2.5" fill="#000"/>
<ellipse cx="173.3" cy="294.3" rx="2.9" ry="2.5" fill="#000"/>
<ellipse cx="195.0" cy="264.8" rx="2.9" ry="2.5" fill="#000"/>
<ellipse cx="216.7" cy="205.0" rx="2.9" ry="2.5" fill="#000"/>
<rect x="18.8" y="344.3" width="4.4" height="4.0" fill="#fff" stroke="#000" stroke-width="1"/>
<rect x="40.3" y="342.6" width="4.4" height="4.0" fill="#fff" stroke="#000" stroke-width="1"/>
<rect x="62.3" y="347.3" width="4.4" height="4.0" fill="#fff" stroke="#000" stroke-width="1"/>
<rect x="83.8" y="337.3" width="4.4" height="4.0" fill="#fff" stroke="#000" stroke-width="1"/>
<rect x="105.8" y="327.5" width="4.4" height="4.0" fill="#fff" stroke="#000" stroke-width="1"/>
<rect x="127.3" y="327.2" width="4.4" height="4.0" fill="#fff" stroke="#000" stroke-width="1"/>
<rect x="148.8" y="314.6" width="4.4" height="4.0" fill="#fff" stroke="#000" stroke-width="1"/>
<rect x="171.1" y="310.3" width="4.4" height="4.0" fill="#fff" stroke="#000" stroke-width="1"/>
<rect x="192.8" y="298.0" width="4.4" height="4.0" fill="#fff" stroke="#000" stroke-width="1"/>
<rect x="214.5" y="280.7" width="4.4" height="4.0" fill="#fff" stroke="#000" stroke-width="1"/>
<text x="14.2" y="361.5" font-size="9" font-weight="bold" text-anchor="start" textLength="9.7" lengthAdjust="spacingAndGlyphs" stroke="#000" stroke-width="0.25" >10</text>
<text x="23.8" y="358.1" font-size="6" font-weight="bold" text-anchor="start" stroke="#000" stroke-width="0.25" >-13</text>
<text x="35.4" y="361.5" font-size="9" font-weight="bold" text-anchor="start" textLength="9.7" lengthAdjust="spacingAndGlyphs" stroke="#000" stroke-width="0.25" >10</text>
<text x="45.0" y="358.1" font-size="6" font-weight="bold" text-anchor="start" stroke="#000" stroke-width="0.25" >-12</text>
<text x="57.4" y="361.5" font-size="9" font-weight="bold" text-anchor="start" textLength="9.7" lengthAdjust="spacingAndGlyphs" stroke="#000" stroke-width="0.25" >10</text>
<text x="67.0" y="358.1" font-size="6" font-weight="bold" text-anchor="start" stroke="#000" stroke-width="0.25" >-11</text>
<text x="79.6" y="361.5" font-size="9" font-weight="bold" text-anchor="start" textLength="9.7" lengthAdjust="spacingAndGlyphs" stroke="#000" stroke-width="0.25" >10</text>
<text x="89.2" y="358.1" font-size="6" font-weight="bold" text-anchor="start" stroke="#000" stroke-width="0.25" >-10</text>
<text x="101.1" y="361.5" font-size="9" font-weight="bold" text-anchor="start" textLength="9.7" lengthAdjust="spacingAndGlyphs" stroke="#000" stroke-width="0.25" >10</text>
<text x="110.7" y="358.1" font-size="6" font-weight="bold" text-anchor="start" stroke="#000" stroke-width="0.25" >-9</text>
<text x="123.6" y="361.5" font-size="9" font-weight="bold" text-anchor="start" textLength="9.7" lengthAdjust="spacingAndGlyphs" stroke="#000" stroke-width="0.25" >10</text>
<text x="133.2" y="358.1" font-size="6" font-weight="bold" text-anchor="start" stroke="#000" stroke-width="0.25" >-8</text>
<text x="144.8" y="361.5" font-size="9" font-weight="bold" text-anchor="start" textLength="9.7" lengthAdjust="spacingAndGlyphs" stroke="#000" stroke-width="0.25" >10</text>
<text x="154.4" y="358.1" font-size="6" font-weight="bold" text-anchor="start" stroke="#000" stroke-width="0.25" >-7</text>
<text x="166.5" y="361.5" font-size="9" font-weight="bold" text-anchor="start" textLength="9.7" lengthAdjust="spacingAndGlyphs" stroke="#000" stroke-width="0.25" >10</text>
<text x="176.1" y="358.1" font-size="6" font-weight="bold" text-anchor="start" stroke="#000" stroke-width="0.25" >-6</text>
<text x="188.6" y="361.5" font-size="9" font-weight="bold" text-anchor="start" textLength="9.7" lengthAdjust="spacingAndGlyphs" stroke="#000" stroke-width="0.25" >10</text>
<text x="198.2" y="358.1" font-size="6" font-weight="bold" text-anchor="start" stroke="#000" stroke-width="0.25" >-5</text>
<text x="209.8" y="361.5" font-size="9" font-weight="bold" text-anchor="start" textLength="9.7" lengthAdjust="spacingAndGlyphs" stroke="#000" stroke-width="0.25" >10</text>
<text x="219.4" y="358.1" font-size="6" font-weight="bold" text-anchor="start" stroke="#000" stroke-width="0.25" >-4</text>
<text x="228.6" y="352.3" font-size="8.8" font-weight="bold" text-anchor="end" textLength="4.9" lengthAdjust="spacingAndGlyphs" stroke="#000" stroke-width="0.25" >0</text>
<text x="228.6" y="331.1" font-size="8.8" font-weight="bold" text-anchor="end" textLength="9.9" lengthAdjust="spacingAndGlyphs" stroke="#000" stroke-width="0.25" >10</text>
<text x="228.6" y="306.5" font-size="8.8" font-weight="bold" text-anchor="end" textLength="9.9" lengthAdjust="spacingAndGlyphs" stroke="#000" stroke-width="0.25" >20</text>
<text x="228.6" y="281.9" font-size="8.8" font-weight="bold" text-anchor="end" textLength="9.9" lengthAdjust="spacingAndGlyphs" stroke="#000" stroke-width="0.25" >30</text>
<text x="228.6" y="257.3" font-size="8.8" font-weight="bold" text-anchor="end" textLength="9.9" lengthAdjust="spacingAndGlyphs" stroke="#000" stroke-width="0.25" >40</text>
<text x="228.6" y="232.7" font-size="8.8" font-weight="bold" text-anchor="end" textLength="9.9" lengthAdjust="spacingAndGlyphs" stroke="#000" stroke-width="0.25" >50</text>
<text x="228.6" y="208.1" font-size="8.8" font-weight="bold" text-anchor="end" textLength="9.9" lengthAdjust="spacingAndGlyphs" stroke="#000" stroke-width="0.25" >60</text>
<text transform="translate(246.9,327.3) rotate(-90)" font-size="9" font-weight="bold" stroke="#000" stroke-width="0.25" textLength="104.5" lengthAdjust="spacingAndGlyphs">CORRECTED MFI UNITS</text>
<ellipse cx="80" cy="233" rx="2.9" ry="2.5" fill="#000"/>
<rect x="77.8" y="241" width="4.4" height="4.0" fill="#fff" stroke="#000" stroke-width="1"/>
<text x="91" y="237.7" font-size="8.8" font-weight="bold" text-anchor="start" textLength="11.5" lengthAdjust="spacingAndGlyphs" stroke="#000" stroke-width="0.25" >B6</text>
<text x="102.5" y="235" font-size="6.2" font-weight="bold" text-anchor="start" textLength="15.6" lengthAdjust="spacingAndGlyphs" stroke="#000" stroke-width="0.25" >dom1</text>
<text x="91" y="247" font-size="8.6" font-weight="bold" text-anchor="start" textLength="14.5" lengthAdjust="spacingAndGlyphs" stroke="#000" stroke-width="0.25" >H-Y</text>
<text x="51.6" y="376.5" font-size="9.1" font-weight="bold" text-anchor="start" textLength="138" lengthAdjust="spacingAndGlyphs" stroke="#000" stroke-width="0.25" >PEPTIDE CONCENTRATION (M)</text>
<line x1="299.2" y1="351.5" x2="495.40000000000003" y2="351.5" stroke="#000" stroke-width="1.5"/>
<line x1="494.8" y1="202.3" x2="494.8" y2="352.0" stroke="#000" stroke-width="1.1"/>
<line x1="300.2" y1="351.5" x2="300.2" y2="354.1" stroke="#000" stroke-width="0.9"/>
<line x1="320.5" y1="351.5" x2="320.5" y2="354.1" stroke="#000" stroke-width="0.9"/>
<line x1="342.5" y1="351.5" x2="342.5" y2="354.1" stroke="#000" stroke-width="0.9"/>
<line x1="364" y1="351.5" x2="364" y2="354.1" stroke="#000" stroke-width="0.9"/>
<line x1="385.6" y1="351.5" x2="385.6" y2="354.1" stroke="#000" stroke-width="0.9"/>
<line x1="407.7" y1="351.5" x2="407.7" y2="354.1" stroke="#000" stroke-width="0.9"/>
<line x1="429.5" y1="351.5" x2="429.5" y2="354.1" stroke="#000" stroke-width="0.9"/>
<line x1="451.5" y1="351.5" x2="451.5" y2="354.1" stroke="#000" stroke-width="0.9"/>
<line x1="473.4" y1="351.5" x2="473.4" y2="354.1" stroke="#000" stroke-width="0.9"/>
<line x1="494.7" y1="351.5" x2="494.7" y2="354.1" stroke="#000" stroke-width="0.9"/>
<line x1="492.8" y1="326.2" x2="494.8" y2="326.2" stroke="#000" stroke-width="0.8"/>
<line x1="492.8" y1="301.6" x2="494.8" y2="301.6" stroke="#000" stroke-width="0.8"/>
<line x1="492.8" y1="277.0" x2="494.8" y2="277.0" stroke="#000" stroke-width="0.8"/>
<line x1="492.8" y1="252.4" x2="494.8" y2="252.4" stroke="#000" stroke-width="0.8"/>
<line x1="492.8" y1="227.8" x2="494.8" y2="227.8" stroke="#000" stroke-width="0.8"/>
<line x1="492.8" y1="203.2" x2="494.8" y2="203.2" stroke="#000" stroke-width="0.8"/>
<path d="M300.2,343.0 C303.4,343.2 313.7,344.6 320.5,344.2 C327.3,343.8 335.5,340.6 342.5,340.2 C349.5,339.8 357.1,343.0 364.0,341.5 C370.9,340.0 378.6,333.8 385.6,331.0 C392.6,328.2 400.7,326.6 407.7,323.9 C414.7,321.2 422.5,316.6 429.5,314.2 C436.5,311.8 444.5,310.0 451.5,308.8 C458.5,307.6 466.5,307.2 473.4,306.4 C480.3,305.6 491.3,304.1 494.7,303.7" fill="none" stroke="#000" stroke-width="1.15"/>
<path d="M300.2,343.0 C303.4,342.7 313.7,342.9 320.5,341.0 C327.3,339.1 335.5,333.6 342.5,331.3 C349.5,329.0 357.1,328.7 364.0,326.7 C370.9,324.7 378.6,321.7 385.6,318.8 C392.6,315.9 400.7,314.0 407.7,308.8 C414.7,303.6 422.5,294.9 429.5,286.5 C436.5,278.1 444.5,264.5 451.5,256.5 C458.5,248.5 466.5,243.7 473.4,236.6 C480.3,229.5 491.3,215.9 494.7,212.0" fill="none" stroke="#000" stroke-width="1.15"/>
<ellipse cx="300.2" cy="343.0" rx="2.9" ry="2.5" fill="#000"/>
<ellipse cx="320.5" cy="341.0" rx="2.9" ry="2.5" fill="#000"/>
<ellipse cx="342.5" cy="331.3" rx="2.9" ry="2.5" fill="#000"/>
<ellipse cx="364.0" cy="326.7" rx="2.9" ry="2.5" fill="#000"/>
<ellipse cx="385.6" cy="318.8" rx="2.9" ry="2.5" fill="#000"/>
<ellipse cx="407.7" cy="308.8" rx="2.9" ry="2.5" fill="#000"/>
<ellipse cx="429.5" cy="286.5" rx="2.9" ry="2.5" fill="#000"/>
<ellipse cx="451.5" cy="256.5" rx="2.9" ry="2.5" fill="#000"/>
<ellipse cx="473.4" cy="236.6" rx="2.9" ry="2.5" fill="#000"/>
<ellipse cx="494.7" cy="212.0" rx="2.9" ry="2.5" fill="#000"/>
<rect x="298.0" y="341.0" width="4.4" height="4.0" fill="#fff" stroke="#000" stroke-width="1"/>
<rect x="318.3" y="342.2" width="4.4" height="4.0" fill="#fff" stroke="#000" stroke-width="1"/>
<rect x="340.3" y="338.2" width="4.4" height="4.0" fill="#fff" stroke="#000" stroke-width="1"/>
<rect x="361.8" y="339.5" width="4.4" height="4.0" fill="#fff" stroke="#000" stroke-width="1"/>
<rect x="383.4" y="329.0" width="4.4" height="4.0" fill="#fff" stroke="#000" stroke-width="1"/>
<rect x="405.5" y="321.9" width="4.4" height="4.0" fill="#fff" stroke="#000" stroke-width="1"/>
<rect x="427.3" y="312.2" width="4.4" height="4.0" fill="#fff" stroke="#000" stroke-width="1"/>
<rect x="449.3" y="306.8" width="4.4" height="4.0" fill="#fff" stroke="#000" stroke-width="1"/>
<rect x="471.2" y="304.4" width="4.4" height="4.0" fill="#fff" stroke="#000" stroke-width="1"/>
<rect x="492.5" y="301.7" width="4.4" height="4.0" fill="#fff" stroke="#000" stroke-width="1"/>
<text x="291.7" y="363" font-size="9" font-weight="bold" text-anchor="start" textLength="9.7" lengthAdjust="spacingAndGlyphs" stroke="#000" stroke-width="0.25" >10</text>
<text x="301.3" y="359.6" font-size="6" font-weight="bold" text-anchor="start" stroke="#000" stroke-width="0.25" >-13</text>
<text x="312.8" y="363" font-size="9" font-weight="bold" text-anchor="start" textLength="9.7" lengthAdjust="spacingAndGlyphs" stroke="#000" stroke-width="0.25" >10</text>
<text x="322.4" y="359.6" font-size="6" font-weight="bold" text-anchor="start" stroke="#000" stroke-width="0.25" >-12</text>
<text x="334.7" y="363" font-size="9" font-weight="bold" text-anchor="start" textLength="9.7" lengthAdjust="spacingAndGlyphs" stroke="#000" stroke-width="0.25" >10</text>
<text x="344.3" y="359.6" font-size="6" font-weight="bold" text-anchor="start" stroke="#000" stroke-width="0.25" >-11</text>
<text x="356.5" y="363" font-size="9" font-weight="bold" text-anchor="start" textLength="9.7" lengthAdjust="spacingAndGlyphs" stroke="#000" stroke-width="0.25" >10</text>
<text x="366.1" y="359.6" font-size="6" font-weight="bold" text-anchor="start" stroke="#000" stroke-width="0.25" >-10</text>
<text x="378.9" y="363" font-size="9" font-weight="bold" text-anchor="start" textLength="9.7" lengthAdjust="spacingAndGlyphs" stroke="#000" stroke-width="0.25" >10</text>
<text x="388.5" y="359.6" font-size="6" font-weight="bold" text-anchor="start" stroke="#000" stroke-width="0.25" >-9</text>
<text x="400.9" y="363" font-size="9" font-weight="bold" text-anchor="start" textLength="9.7" lengthAdjust="spacingAndGlyphs" stroke="#000" stroke-width="0.25" >10</text>
<text x="410.5" y="359.6" font-size="6" font-weight="bold" text-anchor="start" stroke="#000" stroke-width="0.25" >-8</text>
<text x="422.4" y="363" font-size="9" font-weight="bold" text-anchor="start" textLength="9.7" lengthAdjust="spacingAndGlyphs" stroke="#000" stroke-width="0.25" >10</text>
<text x="432.0" y="359.6" font-size="6" font-weight="bold" text-anchor="start" stroke="#000" stroke-width="0.25" >-7</text>
<text x="444.8" y="363" font-size="9" font-weight="bold" text-anchor="start" textLength="9.7" lengthAdjust="spacingAndGlyphs" stroke="#000" stroke-width="0.25" >10</text>
<text x="454.4" y="359.6" font-size="6" font-weight="bold" text-anchor="start" stroke="#000" stroke-width="0.25" >-6</text>
<text x="467.1" y="363" font-size="9" font-weight="bold" text-anchor="start" textLength="9.7" lengthAdjust="spacingAndGlyphs" stroke="#000" stroke-width="0.25" >10</text>
<text x="476.7" y="359.6" font-size="6" font-weight="bold" text-anchor="start" stroke="#000" stroke-width="0.25" >-5</text>
<text x="488.4" y="363" font-size="9" font-weight="bold" text-anchor="start" textLength="9.7" lengthAdjust="spacingAndGlyphs" stroke="#000" stroke-width="0.25" >10</text>
<text x="498.0" y="359.6" font-size="6" font-weight="bold" text-anchor="start" stroke="#000" stroke-width="0.25" >-4</text>
<text x="508" y="353.9" font-size="8.8" font-weight="bold" text-anchor="end" textLength="4.9" lengthAdjust="spacingAndGlyphs" stroke="#000" stroke-width="0.25" >0</text>
<text x="508" y="329.3" font-size="8.8" font-weight="bold" text-anchor="end" textLength="9.9" lengthAdjust="spacingAndGlyphs" stroke="#000" stroke-width="0.25" >10</text>
<text x="508" y="304.7" font-size="8.8" font-weight="bold" text-anchor="end" textLength="9.9" lengthAdjust="spacingAndGlyphs" stroke="#000" stroke-width="0.25" >20</text>
<text x="508" y="280.1" font-size="8.8" font-weight="bold" text-anchor="end" textLength="9.9" lengthAdjust="spacingAndGlyphs" stroke="#000" stroke-width="0.25" >30</text>
<text x="508" y="255.5" font-size="8.8" font-weight="bold" text-anchor="end" textLength="9.9" lengthAdjust="spacingAndGlyphs" stroke="#000" stroke-width="0.25" >40</text>
<text x="508" y="230.9" font-size="8.8" font-weight="bold" text-anchor="end" textLength="9.9" lengthAdjust="spacingAndGlyphs" stroke="#000" stroke-width="0.25" >50</text>
<text x="508" y="206.3" font-size="8.8" font-weight="bold" text-anchor="end" textLength="9.9" lengthAdjust="spacingAndGlyphs" stroke="#000" stroke-width="0.25" >60</text>
<text transform="translate(519.7,327.3) rotate(-90)" font-size="9" font-weight="bold" stroke="#000" stroke-width="0.25" textLength="104.5" lengthAdjust="spacingAndGlyphs">CORRECTED MFI UNITS</text>
<ellipse cx="386" cy="233" rx="2.9" ry="2.5" fill="#000"/>
<rect x="383.8" y="241" width="4.4" height="4.0" fill="#fff" stroke="#000" stroke-width="1"/>
<text x="397.5" y="237.7" font-size="8.8" font-weight="bold" text-anchor="start" textLength="11.5" lengthAdjust="spacingAndGlyphs" stroke="#000" stroke-width="0.25" >B6</text>
<text x="409" y="235" font-size="6.2" font-weight="bold" text-anchor="start" textLength="15.6" lengthAdjust="spacingAndGlyphs" stroke="#000" stroke-width="0.25" >dom1</text>
<text x="397.5" y="247" font-size="8.6" font-weight="bold" text-anchor="start" textLength="14.5" lengthAdjust="spacingAndGlyphs" stroke="#000" stroke-width="0.25" >H-Y</text>
<text x="328.2" y="376.5" font-size="9.1" font-weight="bold" text-anchor="start" textLength="137.6" lengthAdjust="spacingAndGlyphs" stroke="#000" stroke-width="0.25" >PEPTIDE CONCENTRATION (M)</text>
</svg>
</body></html>
